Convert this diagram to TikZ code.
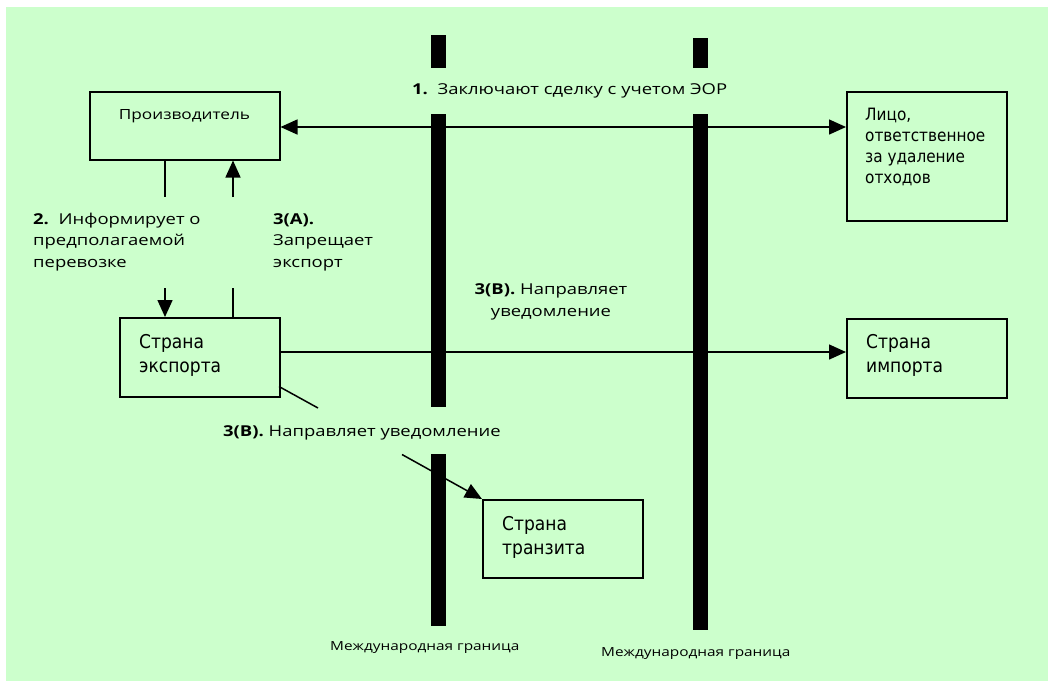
\documentclass[tikz,border=0pt]{standalone}
\usepackage{fontspec}
\setmainfont{Open Sans}
\newfontfamily\gothic[FakeStretch=1.23]{Open Sans}
\newfontfamily\tahoma{DejaVu Sans Condensed}
\usetikzlibrary{arrows.meta}
\definecolor{bg}{HTML}{CCFFCC}
\begin{document}
\begin{tikzpicture}[x=1pt,y=-1pt,
  box/.style={draw, line width=1.5pt, inner sep=0pt, anchor=north west},
  conn/.style={line width=1.5pt},
  tip/.style={-{Triangle[length=17pt,width=15pt]}},
  bitip/.style={{Triangle[length=17pt,width=15pt]}-{Triangle[length=17pt,width=15pt]}},
  bar/.style={line width=15pt, line cap=butt},
  gtext/.style={font=\gothic\fontsize{15}{21.5}\selectfont, inner sep=0pt, align=left, anchor=base west},
  ttext/.style={font=\tahoma\fontsize{19}{24}\selectfont, inner sep=0pt, align=left, anchor=base west},
  small/.style={font=\gothic\fontsize{12.5}{15}\selectfont, inner sep=0pt, anchor=base west}]
\useasboundingbox (0,0) rectangle (1049,681);
\fill[bg] (6,7) rectangle (1048,681);

% borders
\draw[bar] (438,35) -- (438,68);
\draw[bar] (438,114) -- (438,407);
\draw[bar] (438,454) -- (438,626);
\draw[bar] (700.5,38) -- (700.5,68);
\draw[bar] (700.5,114) -- (700.5,630);

% boxes
\node[box, minimum width=190pt, minimum height=68pt] (prod) at (89,91) {};
\node[box, minimum width=160pt, minimum height=129pt] (resp) at (846,91) {};
\node[box, minimum width=160pt, minimum height=79pt] (exp) at (119,317) {};
\node[box, minimum width=160pt, minimum height=79pt] (imp) at (846,318) {};
\node[box, minimum width=160pt, minimum height=78pt] (trans) at (482,499) {};

% box texts
\node[font=\gothic\fontsize{14}{20}\selectfont, inner sep=0pt, anchor=base] (prodt) at (184.5,119) {Производитель};
\node[ttext, font=\tahoma\fontsize{17}{21}\selectfont] (respt) at (865,183) {Лицо,\\ответственное\\за удаление\\отходов};
\node[ttext] (expt) at (139,372) {Страна\\экспорта};
\node[ttext] (impt) at (866,372) {Страна\\импорта};
\node[ttext] (transt) at (502,554) {Страна\\транзита};

% connectors
\coordinate (l1) at (0,127);
\draw[conn, bitip] (prod.east |- l1) -- (resp.west |- l1);
\coordinate (l2) at (0,352);
\draw[conn, tip] (exp.east |- l2) -- (imp.west |- l2);

\coordinate (g2a) at (165,197);
\coordinate (g2b) at (165,288);
\coordinate (g3a) at (233,197);
\coordinate (g3b) at (233,288);
\draw[conn] (prod.south -| g2a) -- (g2a);
\draw[conn, tip] (g2b) -- (exp.north -| g2b);
\draw[conn, tip] (g3a) -- (prod.south -| g3a);
\draw[conn] (exp.north -| g3b) -- (g3b);

\coordinate (d0) at (279,386.5);
\coordinate (d1) at (318,408);
\coordinate (d2) at (402,454.5);
\draw[conn] (d0) -- (d1);
\draw[conn, tip] (d2) -- (trans.north west);

% labels
\node[gtext] (lab1) at (412,94) {\textbf{1.}\ \ Заключают сделку с учетом ЭОР};
\node[gtext] (lab2) at (33,267) {\textbf{2.}\ \ Информирует о\\предполагаемой\\перевозке};
\node[gtext] (lab3a) at (273,267) {\textbf{3(A).}\\Запрещает\\экспорт};
\node[gtext, align=center, anchor=base] (lab3b) at (551,316) {\textbf{3(B).} Направляет\\уведомление};
\node[gtext] (lab3c) at (223,436) {\textbf{3(B).} Направляет уведомление};
\node[small] (bord1) at (330,650) {Международная граница};
\node[small] (bord2) at (601,656) {Международная граница};
\end{tikzpicture}
\end{document}
